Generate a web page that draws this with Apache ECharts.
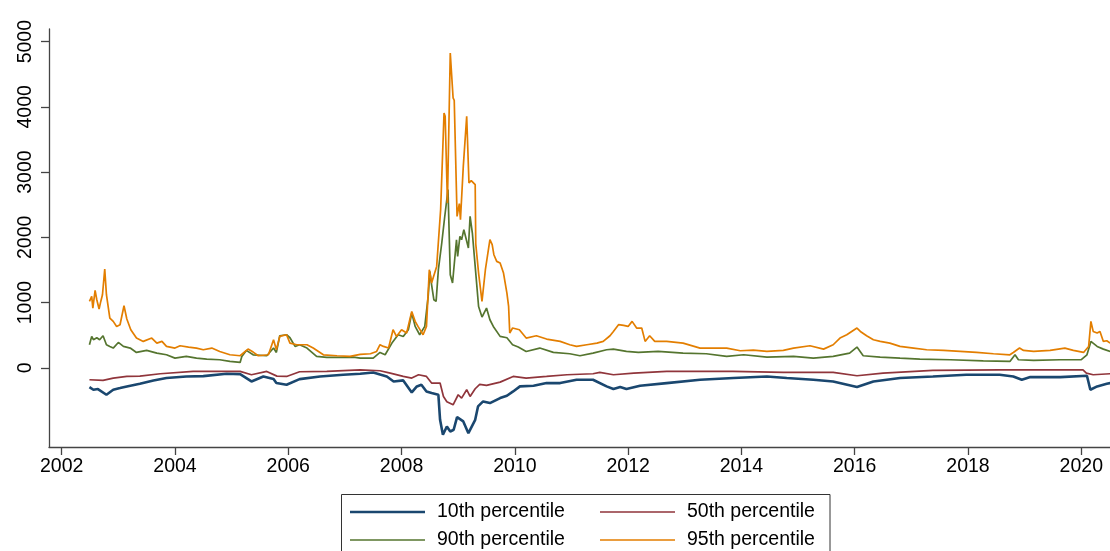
<!DOCTYPE html>
<html>
<head>
<meta charset="utf-8">
<script src="https://cdn.jsdelivr.net/npm/echarts@6/dist/echarts.min.js"></script>
<style>
  html, body { margin: 0; padding: 0; background: #fff; }
  #chart { width: 1110px; height: 551px; }
</style>
</head>
<body>
<div id="chart"></div>
<script>
// Percentile series: [decimal year, value]
const p10 = [[2002.49,-296],[2002.56,-337],[2002.64,-327],[2002.79,-414],[2002.91,-337],[2003.03,-312],[2003.15,-286],[2003.38,-245],[2003.62,-194],[2003.85,-158],[2004.2,-133],[2004.5,-128],[2004.91,-92],[2005.15,-97],[2005.35,-210],[2005.56,-133],[2005.74,-174],[2005.79,-235],[2005.97,-260],[2006.2,-174],[2006.56,-133],[2006.97,-107],[2007.27,-92],[2007.5,-72],[2007.74,-133],[2007.86,-210],[2008.03,-194],[2008.18,-378],[2008.27,-286],[2008.35,-260],[2008.44,-363],[2008.53,-388],[2008.65,-414],[2008.68,-798],[2008.73,-1028],[2008.8,-900],[2008.86,-977],[2008.92,-951],[2008.98,-757],[2009.09,-823],[2009.18,-1003],[2009.3,-798],[2009.35,-593],[2009.44,-516],[2009.56,-542],[2009.74,-465],[2009.86,-429],[2009.97,-363],[2010.09,-286],[2010.33,-276],[2010.56,-235],[2010.8,-235],[2011.09,-184],[2011.38,-184],[2011.62,-286],[2011.74,-327],[2011.86,-296],[2011.97,-327],[2012.21,-276],[2012.68,-235],[2013.27,-184],[2013.86,-158],[2014.45,-133],[2014.8,-158],[2015.27,-184],[2015.62,-210],[2016.04,-296],[2016.33,-210],[2016.8,-158],[2017.38,-133],[2017.97,-107],[2018.56,-107],[2018.8,-133],[2018.95,-184],[2019.1,-143],[2019.63,-143],[2020.1,-123],[2020.16,-337],[2020.28,-286],[2020.45,-245],[2020.51,-235]];

const p50 = [[2002.49,-184],[2002.73,-194],[2002.91,-158],[2003.15,-133],[2003.38,-128],[2003.74,-92],[2004.32,-56],[2004.79,-56],[2005.15,-56],[2005.35,-107],[2005.62,-56],[2005.8,-128],[2005.97,-133],[2006.2,-61],[2006.68,-56],[2007.27,-31],[2007.62,-46],[2007.8,-82],[2008.03,-133],[2008.18,-158],[2008.3,-107],[2008.44,-133],[2008.53,-235],[2008.68,-235],[2008.74,-440],[2008.8,-520],[2008.91,-568],[2009.0,-414],[2009.06,-465],[2009.15,-337],[2009.21,-440],[2009.3,-322],[2009.38,-256],[2009.5,-271],[2009.74,-220],[2009.97,-133],[2010.2,-158],[2010.56,-133],[2010.92,-107],[2011.38,-92],[2011.5,-72],[2011.74,-107],[2012.1,-82],[2012.68,-56],[2013.85,-56],[2014.74,-72],[2015.62,-72],[2016.04,-123],[2016.5,-82],[2017.38,-41],[2018.56,-31],[2020.03,-31],[2020.09,-82],[2020.21,-107],[2020.51,-92]];

const p90 = [[2002.49,353],[2002.53,481],[2002.56,430],[2002.62,460],[2002.67,430],[2002.73,491],[2002.79,353],[2002.85,327],[2002.91,302],[2003.0,388],[2003.09,327],[2003.21,302],[2003.32,235],[2003.5,266],[2003.68,225],[2003.85,199],[2004.0,148],[2004.2,174],[2004.38,148],[2004.56,133],[2004.79,123],[2004.97,97],[2005.15,82],[2005.18,174],[2005.26,266],[2005.38,199],[2005.62,184],[2005.74,302],[2005.79,235],[2005.85,491],[2005.97,506],[2006.03,460],[2006.12,327],[2006.2,353],[2006.33,302],[2006.5,174],[2006.68,159],[2006.97,159],[2007.15,164],[2007.27,148],[2007.5,148],[2007.62,235],[2007.71,199],[2007.83,378],[2007.94,506],[2008.03,480],[2008.12,583],[2008.18,839],[2008.24,634],[2008.32,506],[2008.41,634],[2008.47,1094],[2008.5,1477],[2008.53,1273],[2008.57,1043],[2008.61,1017],[2008.65,1503],[2008.71,1913],[2008.76,2300],[2008.82,2731],[2008.86,1427],[2008.9,1299],[2008.97,1963],[2008.99,1708],[2009.03,2014],[2009.06,1963],[2009.1,2117],[2009.18,1836],[2009.21,2321],[2009.25,2066],[2009.3,1554],[2009.36,940],[2009.42,777],[2009.5,915],[2009.56,736],[2009.62,634],[2009.74,481],[2009.86,460],[2009.96,353],[2010.06,317],[2010.2,250],[2010.44,302],[2010.68,235],[2010.97,215],[2011.15,184],[2011.38,225],[2011.62,276],[2011.74,286],[2011.97,250],[2012.18,235],[2012.53,250],[2012.97,225],[2013.38,215],[2013.74,174],[2014.04,199],[2014.45,164],[2014.92,174],[2015.27,148],[2015.62,174],[2015.91,225],[2016.04,317],[2016.15,184],[2016.45,164],[2016.8,148],[2017.15,133],[2017.69,123],[2018.27,107],[2018.74,97],[2018.83,199],[2018.89,123],[2019.16,112],[2019.63,123],[2020.0,123],[2020.1,199],[2020.17,404],[2020.28,327],[2020.39,286],[2020.51,250]];

const p95 = [[2002.49,1017],[2002.53,1094],[2002.55,915],[2002.59,1186],[2002.62,1043],[2002.66,900],[2002.69,1017],[2002.72,1120],[2002.76,1514],[2002.79,1120],[2002.85,762],[2002.91,711],[2002.97,634],[2003.03,660],[2003.10,951],[2003.15,747],[2003.18,762],[2003.22,583],[2003.32,455],[2003.44,404],[2003.59,455],[2003.68,378],[2003.77,404],[2003.85,327],[2004.0,302],[2004.09,337],[2004.24,317],[2004.38,302],[2004.5,276],[2004.65,302],[2004.79,250],[2004.97,199],[2005.15,184],[2005.24,250],[2005.29,286],[2005.38,240],[2005.47,184],[2005.65,199],[2005.74,430],[2005.79,276],[2005.85,481],[2005.97,506],[2006.03,378],[2006.15,353],[2006.33,353],[2006.44,302],[2006.62,199],[2006.86,184],[2007.09,174],[2007.27,205],[2007.45,215],[2007.56,250],[2007.62,353],[2007.68,327],[2007.77,302],[2007.85,583],[2007.91,480],[2008.0,583],[2008.09,532],[2008.18,864],[2008.24,711],[2008.29,634],[2008.38,506],[2008.44,634],[2008.49,1503],[2008.53,1299],[2008.62,1554],[2008.69,2424],[2008.75,3907],[2008.77,3855],[2008.81,2526],[2008.86,4827],[2008.91,4137],[2008.93,4100],[2008.98,2321],[2009.02,2516],[2009.04,2270],[2009.09,3088],[2009.15,3855],[2009.19,2833],[2009.23,2870],[2009.3,2807],[2009.31,1900],[2009.36,1452],[2009.42,1017],[2009.48,1503],[2009.56,1963],[2009.6,1887],[2009.63,1733],[2009.68,1631],[2009.74,1605],[2009.8,1452],[2009.86,1145],[2009.89,940],[2009.91,532],[2009.96,609],[2010.08,583],[2010.2,455],[2010.38,491],[2010.56,440],[2010.8,404],[2010.97,353],[2011.09,327],[2011.27,353],[2011.45,378],[2011.56,404],[2011.68,491],[2011.74,557],[2011.83,660],[2011.92,650],[2012.0,634],[2012.07,711],[2012.15,609],[2012.24,609],[2012.3,404],[2012.38,491],[2012.47,404],[2012.68,404],[2012.97,378],[2013.27,302],[2013.56,302],[2013.74,302],[2013.98,261],[2014.21,271],[2014.45,250],[2014.74,266],[2014.92,302],[2015.21,337],[2015.45,286],[2015.62,353],[2015.74,455],[2015.86,506],[2016.04,609],[2016.1,557],[2016.21,491],[2016.33,430],[2016.45,404],[2016.62,378],[2016.8,327],[2017.04,302],[2017.27,276],[2017.57,266],[2017.86,250],[2018.15,235],[2018.45,215],[2018.74,199],[2018.8,235],[2018.91,302],[2018.98,266],[2019.16,250],[2019.45,266],[2019.71,302],[2019.86,266],[2020.04,235],[2020.13,327],[2020.17,711],[2020.21,557],[2020.28,532],[2020.33,557],[2020.39,404],[2020.45,414],[2020.51,378]];

const seriesNames = ['10th percentile', '50th percentile', '90th percentile', '95th percentile'];
const xTicks = [2002, 2004, 2006, 2008, 2010, 2012, 2014, 2016, 2018, 2020];
const yTicks = [0, 1000, 2000, 3000, 4000, 5000];

const colors = ['#1a476f', '#90353b', '#55752f', '#e37e00'];
const widths = [2.6, 1.7, 1.7, 1.7];
const dataSets = [p10, p50, p90, p95];

const FONT = '"Liberation Sans", Arial, Helvetica, sans-serif';

// Legend keys: a horizontal stroke centred in a 75x14 box (hairline guides keep the box size)
const keyThick = 'path://M0,0H75V0.01H0Z M0,5.8H75V8.2H0Z M0,13.99H75V14H0Z';
const keyThin = 'path://M0,0H75V0.01H0Z M0,6.2H75V7.8H0Z M0,13.99H75V14H0Z';
const keyIcons = [keyThick, keyThin, keyThin, keyThin];

const chart = echarts.init(document.getElementById('chart'), null, { renderer: 'canvas' });

const legendText = { color: '#000', fontSize: 19.5, fontFamily: FONT, lineHeight: 20, padding: [0, 0, 0, 7] };
const legendItem = i => ({ name: seriesNames[i], icon: keyIcons[i], itemStyle: { color: colors[i], borderWidth: 0 } });

chart.setOption({
  animation: false,
  backgroundColor: '#fff',
  grid: { left: 49, right: 0, top: 29, bottom: 104, containLabel: false },
  xAxis: {
    type: 'value',
    min: 2001.776,
    max: 2020.507,
    axisLine: { show: true, onZero: false, lineStyle: { color: '#444', width: 1.3 } },
    axisTick: { show: true, length: 8, customValues: xTicks, lineStyle: { color: '#444', width: 1.3 } },
    axisLabel: { customValues: xTicks, color: '#000', fontSize: 19.5, fontFamily: FONT, margin: 10, formatter: v => String(v) },
    splitLine: { show: false }
  },
  yAxis: {
    type: 'value',
    min: -1215,
    max: 5194,
    axisLine: { show: true, onZero: false, lineStyle: { color: '#444', width: 1.3 } },
    axisTick: { show: true, length: 8, customValues: yTicks, lineStyle: { color: '#444', width: 1.3 } },
    axisLabel: { customValues: yTicks, rotate: 90, color: '#000', fontSize: 19.5, fontFamily: FONT, margin: 13, formatter: v => String(v) },
    splitLine: { show: false }
  },
  legend: [
    {
      orient: 'vertical', left: 350, top: 502, padding: 0,
      itemWidth: 75, itemHeight: 14, itemGap: 8,
      data: [legendItem(0), legendItem(2)],
      textStyle: legendText
    },
    {
      orient: 'vertical', left: 600, top: 502, padding: 0,
      itemWidth: 75, itemHeight: 14, itemGap: 8,
      data: [legendItem(1), legendItem(3)],
      textStyle: legendText
    }
  ],
  graphic: [
    {
      type: 'rect', z: -1, silent: true,
      shape: { x: 341.5, y: 494.5, width: 488.5, height: 80 },
      style: { fill: '#fff', stroke: '#333', lineWidth: 1 }
    }
  ],
  series: dataSets.map((d, i) => ({
    name: seriesNames[i],
    type: 'line',
    data: d,
    symbol: 'none',
    showSymbol: false,
    clip: true,
    lineStyle: { color: colors[i], width: widths[i] },
    itemStyle: { color: colors[i] },
    z: 2 + i
  }))
});
</script>
</body>
</html>
